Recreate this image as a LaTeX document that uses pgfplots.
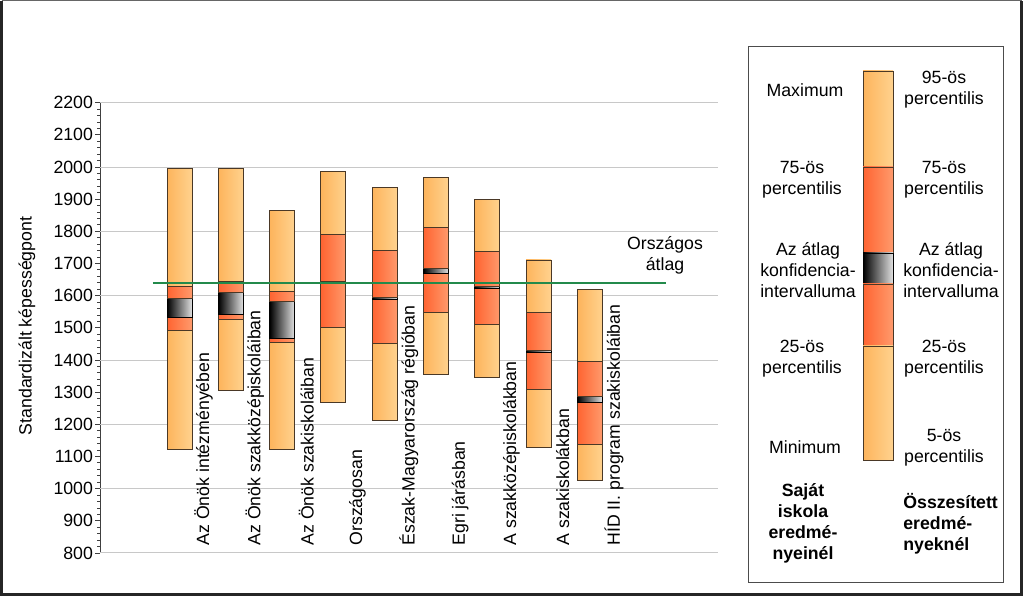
\documentclass[border=0pt]{standalone}
\usepackage{fontspec}
\setmainfont{Liberation Sans}
\usepackage{pgfplots}
\usepackage{pgfplotstable}
\pgfplotsset{compat=1.18}
\definecolor{lightL}{HTML}{FDB45C}
\definecolor{lightR}{HTML}{FFD28E}
\definecolor{redL}{HTML}{FF6431}
\definecolor{redR}{HTML}{FF9A6C}
\definecolor{edge}{HTML}{4A3826}
\definecolor{natgreen}{HTML}{238A4B}
\definecolor{gridc}{HTML}{C8C8C8}
\newcommand{\f}{\fontsize{8.85pt}{10.5pt}\selectfont}

\pgfplotstableread{
x min p25 cilo cihi p75 max
0 1122 1492 1532 1591 1630 1996
1 1305 1526 1542 1609 1645 1996
2 1122 1454 1466 1581 1612 1864
3 1268 1500 1637 1643 1790 1986
4 1211 1451 1589 1596 1740 1937
5 1356 1548 1669 1684 1812 1968
6 1345 1512 1623 1628 1737 1898
7 1127 1308 1425 1430 1548 1711
8 1026 1137 1268 1288 1394 1620
}\bars

\pgfplotsset{
  lightseg/.style={draw=edge, line width=0.45pt, left color=lightL, right color=lightR},
  redseg/.style={draw=edge, line width=0.45pt, left color=redL, right color=redR},
  ciseg/.style={draw=black, line width=0.45pt, left color=black, right color=white!88!black},
}
\newcommand\seg[3]{\edef\tmp{\noexpand\addplot[#1] coordinates {(\xl,#2) (\xr,#2) (\xr,#3) (\xl,#3)} -- cycle;}\tmp}

\begin{document}
\begin{tikzpicture}[font=\f]
\useasboundingbox (0,0) rectangle (512pt,298.5pt);
\begin{axis}[
  scale only axis, width=309pt, height=225.15pt,
  at={(50pt,22pt)}, anchor=south west,
  xmin=-1.55, xmax=10.497, ymin=800, ymax=2200,
  axis x line=none, axis y line=left,
  y axis line style={-, draw=black!75, line width=0.5pt},
  ytick={800,900,...,2200}, minor y tick num=4,
  tick align=outside, major tick length=2.5pt, minor tick length=1.5pt,
  tick style={black!75, line width=0.45pt},
  extra y ticks={800,1000,...,2200}, extra y tick labels={},
  extra y tick style={grid=major, major tick length=0pt},
  major grid style={gridc, line width=0.5pt},
  yticklabel style={font=\f, text=black, xshift=2.5pt},
  /pgf/number format/assume math mode=true,
  /pgf/number format/1000 sep={},
  clip=false,
]
\pgfplotsforeachungrouped \i in {0,...,8}{%
  \pgfplotstablegetelem{\i}{min}\of\bars \let\va\pgfplotsretval
  \pgfplotstablegetelem{\i}{p25}\of\bars \let\vb\pgfplotsretval
  \pgfplotstablegetelem{\i}{cilo}\of\bars \let\vc\pgfplotsretval
  \pgfplotstablegetelem{\i}{cihi}\of\bars \let\vd\pgfplotsretval
  \pgfplotstablegetelem{\i}{p75}\of\bars \let\ve\pgfplotsretval
  \pgfplotstablegetelem{\i}{max}\of\bars \let\vf\pgfplotsretval
  \pgfplotstablegetelem{\i}{x}\of\bars \let\vx\pgfplotsretval
  \pgfmathsetmacro\xl{\vx-0.2435}%
  \pgfmathsetmacro\xr{\vx+0.2435}%
  \seg{lightseg}{\va}{\vb}%
  \seg{redseg}{\vb}{\vc}%
  \seg{ciseg}{\vc}{\vd}%
  \seg{redseg}{\vd}{\ve}%
  \seg{lightseg}{\ve}{\vf}%
}
\addplot[natgreen, line width=1.3pt] coordinates {(-0.52,1640) (9.48,1640)};
\foreach \i/\t in {0/Az Önök intézményében, 1/Az Önök szakközépiskoláiban, 2/Az Önök szakiskoláiban, 3/Országosan, 4/Észak-Magyarország régióban, 5/Egri járásban, 6/A szakközépiskolákban, 7/A szakiskolákban, 8/HÍD II. program szakiskoláiban}{
  \edef\temp{\noexpand\node[rotate=90, anchor=west, inner sep=0pt, font=\noexpand\f] at (axis cs:\i+0.47,822) {\t};}
  \temp
}
\end{axis}
\begin{scope}[x=0.5pt, y=-0.5pt, shift={(0pt,298.5pt)}]
  % outer frame
  \draw[black!85, line width=1.5pt] (1.5,0.75) -- (1.5,594.5) -- (1021.5,594.5) -- (1021.5,0.75);
  \draw[black!60, line width=0.4pt] (1.5,0.5) -- (1021.5,0.5);
  % y label
  \node[rotate=90] at (27,326) {Standardizált képességpont};
  % national average label
  \node[align=center] at (665,255) {Országos\\átlag};
  % legend box
  \draw[black!70, line width=0.5pt] (748,47) rectangle (1003,583);
  \path[left color=lightL, right color=lightR, draw=edge, line width=0.45pt] (863,71) rectangle (893,167);
  \path[left color=redL, right color=redR, draw=edge, line width=0.45pt] (863,167) rectangle (893,253);
  \path[left color=black, right color=white!88!black, draw=black, line width=0.45pt] (863,253) rectangle (893,284);
  \path[left color=redL, right color=redR, draw=edge, line width=0.45pt] (863,284) rectangle (893,346);
  \path[left color=lightL, right color=lightR, draw=edge, line width=0.45pt] (863,346) rectangle (893,460);
  % left column
  \node[align=center] at (805,90) {Maximum};
  \node[align=center] at (802,180) {75-ös\\percentilis};
  \node[align=center] at (808,270) {Az átlag\\konfidencia-\\intervalluma};
  \node[align=center] at (802,358.5) {25-ös\\percentilis};
  \node[align=center] at (805,447) {Minimum};
  \node[align=center, font=\f\bfseries] at (803,523) {Saját\\iskola\\eredmé-\\nyeinél};
  % right column
  \node[align=center] at (944,90) {95-ös\\percentilis};
  \node[align=center] at (944,180) {75-ös\\percentilis};
  \node[align=center] at (951,270) {Az átlag\\konfidencia-\\intervalluma};
  \node[align=center] at (944,358.5) {25-ös\\percentilis};
  \node[align=center] at (944,447.5) {5-ös\\percentilis};
  \node[align=left, anchor=west, font=\f\bfseries, inner sep=0pt] at (903,523.5) {Összesített\\eredmé-\\nyeknél};
\end{scope}
\end{tikzpicture}
\end{document}
